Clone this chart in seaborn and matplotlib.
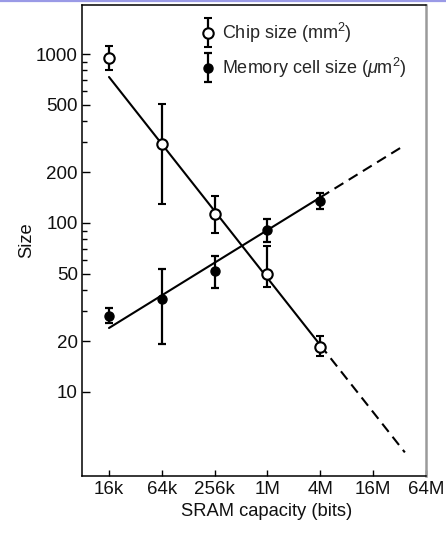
import numpy as np
import pandas as pd
import matplotlib
matplotlib.use("Agg")
import matplotlib.pyplot as plt
import seaborn as sns
from matplotlib.container import ErrorbarContainer
from matplotlib.legend_handler import HandlerErrorbar
from matplotlib.lines import Line2D
from matplotlib.ticker import FixedLocator, NullFormatter

# SRAM generations (bits) and their labels
capacity_bits = [2**14, 2**16, 2**18, 2**20, 2**22]
xtick_bits = [2**14, 2**16, 2**18, 2**20, 2**22, 2**24, 2**26]
xtick_labels = ["16k", "64k", "256k", "1M", "4M", "16M", "64M"]

# Chip size (mm^2): mean with spread
chip_size = [950, 295, 113, 50, 18.5]
chip_high = [1115, 505, 144, 73, 21.4]
chip_low = [805, 130, 87, 42, 16.3]

# Memory cell size (um^2): mean with spread
cell_size = [28, 35.5, 52, 91, 135]
cell_high = [31.4, 53.5, 64, 106, 151]
cell_low = [25.6, 19.3, 41, 77, 121]

# Power-law trends: value at 16k bits and exponent
chip_trend_16k, chip_trend_exp = 731, -0.659
cell_trend_16k, cell_trend_exp = 23.9, 0.321
projection_end_bits = 2**25.2

ytick_values = [10, 20, 50, 100, 200, 500, 1000]
ytick_labels = ["10", "20", "50", "100", "200", "500", "1000"]
yminor_values = [30, 40, 60, 70, 80, 90, 300, 400, 600, 700, 800, 900]

sns.set_theme(style="ticks")
plt.rcParams["font.family"] = ["Liberation Sans", "DejaVu Sans"]
plt.rcParams["mathtext.fontset"] = "custom"
plt.rcParams["mathtext.rm"] = "Liberation Sans"
plt.rcParams["mathtext.it"] = "Liberation Sans:italic"
plt.rcParams["mathtext.bf"] = "Liberation Sans:bold"

fig = plt.figure(figsize=(4.46, 5.34), dpi=100)
ax = fig.add_axes([82 / 446, 1 - 476 / 534, 344 / 446, 471 / 534])
ax.set_xscale("log")
ax.set_yscale("log")


def trend(bits, at16k, exp):
    return at16k * (np.asarray(bits, dtype=float) / 2**14) ** exp


solid_bits = np.array([capacity_bits[0], capacity_bits[-1]], dtype=float)
dash_bits = np.array([capacity_bits[-1], projection_end_bits], dtype=float)

for at16k, exp in [(chip_trend_16k, chip_trend_exp), (cell_trend_16k, cell_trend_exp)]:
    solid = pd.DataFrame({"bits": solid_bits, "size": trend(solid_bits, at16k, exp)})
    dashed = pd.DataFrame({"bits": dash_bits, "size": trend(dash_bits, at16k, exp)})
    sns.lineplot(data=solid, x="bits", y="size", ax=ax, color="black",
                 linewidth=1.5, zorder=2, legend=False)
    sns.lineplot(data=dashed, x="bits", y="size", ax=ax, color="black",
                 linewidth=1.5, linestyle=(0, (5, 3)), zorder=2, legend=False)

chip = np.array(chip_size)
cell = np.array(cell_size)
eb_chip = ax.errorbar(capacity_bits, chip,
                      yerr=[chip - np.array(chip_low), np.array(chip_high) - chip],
                      fmt="o", color="black", markerfacecolor="white",
                      markeredgecolor="black", markeredgewidth=1.5, markersize=7.5,
                      elinewidth=1.6, capsize=3, capthick=1.6, zorder=3,
                      label="Chip size (mm$^2$)")
eb_cell = ax.errorbar(capacity_bits, cell,
                      yerr=[cell - np.array(cell_low), np.array(cell_high) - cell],
                      fmt="o", color="black", markerfacecolor="black",
                      markeredgecolor="black", markersize=6.5,
                      elinewidth=1.6, capsize=3, capthick=1.6, zorder=3,
                      label="Memory cell size ($\\mu$m$^2$)")

ax.set_xlim(2**12.978, 2**26)
ax.set_ylim(3.18, 1950)

ax.xaxis.set_major_locator(FixedLocator(xtick_bits))
ax.set_xticklabels(xtick_labels)
ax.xaxis.set_minor_locator(FixedLocator([]))
ax.yaxis.set_major_locator(FixedLocator(ytick_values))
ax.set_yticklabels(ytick_labels)
ax.yaxis.set_minor_locator(FixedLocator(yminor_values))
ax.yaxis.set_minor_formatter(NullFormatter())

ax.tick_params(axis="both", which="major", direction="in", color="black",
               labelsize=13.5, labelcolor="#111111", width=1.0)
ax.tick_params(axis="y", which="major", length=6, pad=3)
ax.tick_params(axis="y", which="minor", direction="in", length=3.5, width=1.0, color="black")
ax.tick_params(axis="x", which="major", length=4, pad=3.5)
ax.tick_params(top=False, right=False, which="both")

for side in ["left", "bottom", "top"]:
    ax.spines[side].set_color("black")
    ax.spines[side].set_linewidth(1.1)
ax.spines["right"].set_color("#9a9a9a")
ax.spines["right"].set_linewidth(1.8)

ax.set_xlabel("SRAM capacity (bits)", fontsize=13.2, color="#111111")
ax.set_ylabel("Size", fontsize=13.2, color="#111111")
ax.xaxis.set_label_coords(0.538, -0.058)
ax.yaxis.set_label_coords(-0.135, 0.5)

ax.legend(handles=[eb_chip, eb_cell], loc="upper left",
          bbox_to_anchor=(0.344, 0.966), frameon=False, fontsize=13,
          handlelength=0.8, handletextpad=0.4, labelspacing=0.6,
          borderpad=0, borderaxespad=0, numpoints=1,
          handler_map={ErrorbarContainer: HandlerErrorbar(xerr_size=0.8)})

fig.add_artist(Line2D([0, 1], [0.998, 0.998], transform=fig.transFigure,
                      color="#9a9ae6", linewidth=1.6))

fig.savefig("out.png", dpi=100, facecolor="white")
